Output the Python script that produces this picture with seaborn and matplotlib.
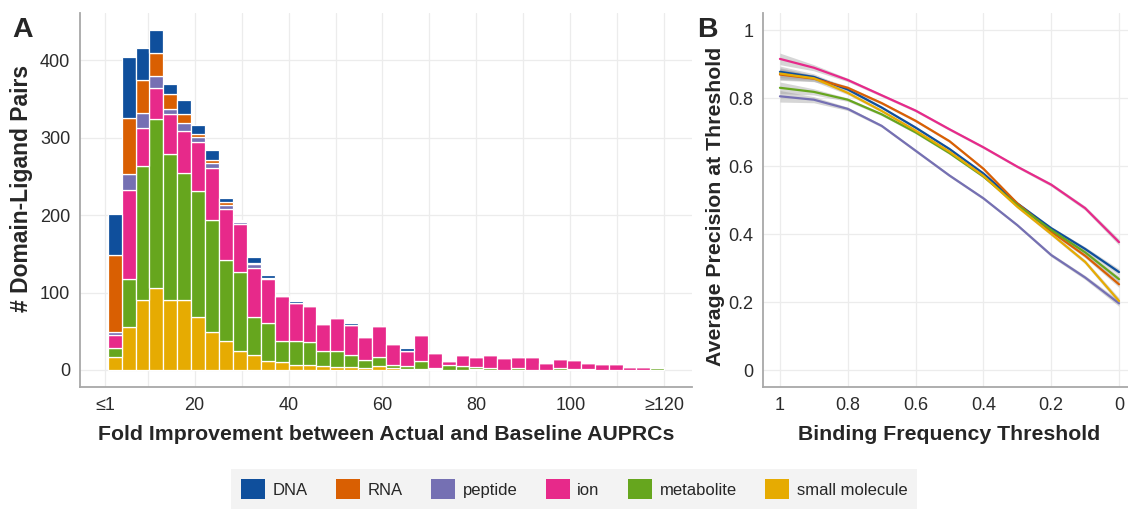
import numpy as np
import pandas as pd
import matplotlib
matplotlib.use("Agg")
import matplotlib.pyplot as plt
from matplotlib.patches import Patch
import seaborn as sns


LIGANDS = ["DNA", "RNA", "peptide", "ion", "metabolite", "small molecule"]
COLORS = ["#0f4f9c", "#d95f02", "#7570b3", "#e7298a", "#66a61e", "#e6ab02"]

# panel A: number of domain-ligand pairs per fold-improvement bin (40 bins)
N_BINS = 40
BIN_RANGE = (1.5, 120)
dna_counts = [53, 79, 42, 30, 12, 18, 12, 13, 5, 2, 8, 3, 0, 2, 0, 0, 0, 3, 0, 0,
              0, 3, 0, 0, 0, 0, 0, 0, 0, 0, 0, 0, 0, 0, 0, 0, 0, 0, 0, 0]
rna_counts = [100, 72, 42, 30, 20, 12, 4, 4, 4, 1, 1, 0, 0, 1, 0, 0, 0, 0, 0, 0,
              0, 0, 0, 0, 0, 0, 0, 0, 0, 0, 0, 0, 0, 0, 0, 0, 0, 0, 0, 0]
peptide_counts = [4, 21, 19, 15, 7, 10, 6, 6, 5, 3, 5, 1, 0, 0, 0, 0, 0, 0, 0, 0,
                  0, 0, 0, 0, 0, 0, 0, 0, 0, 0, 0, 0, 0, 0, 0, 0, 0, 0, 0, 0]
ion_counts = [17, 115, 50, 40, 51, 54, 64, 67, 66, 61, 63, 57, 59, 49, 46, 34, 42, 39, 30, 40,
              27, 20, 33, 19, 6, 14, 13, 16, 16, 15, 17, 9, 12, 12, 8, 8, 8, 4, 4, 2]
metabolite_counts = [11, 62, 172, 218, 189, 165, 163, 145, 105, 103, 50, 49, 27, 30, 29, 20, 21, 15, 11, 12,
                     5, 4, 11, 2, 6, 5, 3, 3, 0, 2, 0, 0, 2, 1, 1, 0, 0, 0, 0, 2]
small_molecule_counts = [17, 55, 91, 106, 90, 90, 68, 49, 37, 24, 19, 12, 10, 7, 7, 5, 4, 4, 2, 5,
                         2, 1, 1, 1, 0, 0, 1, 0, 0, 0, 0, 0, 0, 0, 0, 0, 0, 0, 0, 0]

# panel B: smoothed average precision vs binding frequency threshold
thresholds = [1.0, 0.9, 0.8, 0.7, 0.6, 0.5, 0.4, 0.3, 0.2, 0.1, 0.0]
dna_prec = [0.877, 0.862, 0.825, 0.772, 0.713, 0.650, 0.578, 0.490, 0.417, 0.356, 0.288]
rna_prec = [0.869, 0.857, 0.830, 0.785, 0.733, 0.673, 0.592, 0.490, 0.407, 0.336, 0.252]
peptide_prec = [0.805, 0.795, 0.768, 0.718, 0.645, 0.572, 0.505, 0.426, 0.338, 0.272, 0.196]
ion_prec = [0.915, 0.889, 0.853, 0.808, 0.763, 0.708, 0.655, 0.598, 0.545, 0.476, 0.376]
metabolite_prec = [0.830, 0.818, 0.795, 0.752, 0.699, 0.638, 0.569, 0.485, 0.412, 0.346, 0.267]
small_molecule_prec = [0.872, 0.858, 0.815, 0.762, 0.704, 0.642, 0.571, 0.480, 0.400, 0.318, 0.203]
band_halfwidth = [0.017, 0.009, 0.005, 0.004, 0.004, 0.004, 0.004, 0.004, 0.005, 0.006, 0.009]


def build_hist_df():
    edges = np.linspace(BIN_RANGE[0], BIN_RANGE[1], N_BINS + 1)
    mids = (edges[:-1] + edges[1:]) / 2
    all_counts = [dna_counts, rna_counts, peptide_counts, ion_counts,
                  metabolite_counts, small_molecule_counts]
    rows = []
    for lig, counts in zip(LIGANDS, all_counts):
        for m, c in zip(mids, counts):
            rows.append((lig, m, c))
    return pd.DataFrame(rows, columns=["ligand", "fold", "n"])


def build_smooth_df():
    all_prec = [dna_prec, rna_prec, peptide_prec, ion_prec,
                metabolite_prec, small_molecule_prec]
    rows = []
    for lig, prec in zip(LIGANDS, all_prec):
        for t, p, h in zip(thresholds, prec, band_halfwidth):
            # lower / fit / upper so the band spans the smoother's CI
            rows.append((lig, t, p - h))
            rows.append((lig, t, p))
            rows.append((lig, t, p + h))
    return pd.DataFrame(rows, columns=["ligand", "threshold", "precision"])


def style_axes(ax):
    ax.set_facecolor("white")
    for side in ["top", "right"]:
        ax.spines[side].set_visible(False)
    for side in ["left", "bottom"]:
        ax.spines[side].set_visible(True)
        ax.spines[side].set_color("#a8a8a8")
        ax.spines[side].set_linewidth(1.3)
    ax.grid(True, which="both", color="#ececec", linewidth=0.9)
    ax.set_axisbelow(True)
    ax.tick_params(which="both", length=4, width=1, color="#a8a8a8",
                   labelsize=13, labelcolor="#2b2b2b", pad=3)


def main():
    sns.set_theme(style="white")
    plt.rcParams["font.family"] = ["Liberation Sans", "DejaVu Sans"]

    W, H = 1128, 511
    fig = plt.figure(figsize=(W / 100, H / 100), dpi=100)
    fig.patch.set_facecolor("white")

    ax_a = fig.add_axes([80 / W, 124 / H, 612 / W, 374 / H])
    ax_b = fig.add_axes([763 / W, 124 / H, 373 / W, 374 / H])

    # ---- panel A
    hist_df = build_hist_df()
    sns.histplot(data=hist_df, x="fold", weights="n", hue="ligand",
                 hue_order=LIGANDS, palette=COLORS, multiple="stack",
                 bins=N_BINS, binrange=BIN_RANGE, edgecolor="white",
                 linewidth=0.9, alpha=1, legend=False, ax=ax_a)
    style_axes(ax_a)
    ax_a.set_xlim(-4.4, 125.9)
    ax_a.set_ylim(-22, 461)
    ax_a.set_xticks([1, 20, 40, 60, 80, 100, 120])
    ax_a.set_xticklabels(["≤1", "20", "40", "60", "80", "100", "≥120"])
    ax_a.set_xticks([10, 30, 50, 70, 90, 110], minor=True)
    ax_a.set_yticks([0, 100, 200, 300, 400])
    ax_a.set_xlabel("Fold Improvement between Actual and Baseline AUPRCs",
                    fontsize=15.3, fontweight="bold")
    ax_a.set_ylabel("# Domain-Ligand Pairs", fontsize=16.5, fontweight="bold")
    ax_a.xaxis.set_label_coords(0.5, -38 / 374)
    ax_a.yaxis.set_label_coords(-47 / 612, 0.5 + 12 / 374)

    # ---- panel B
    smooth_df = build_smooth_df()
    sns.lineplot(data=smooth_df, x="threshold", y="precision", hue="ligand",
                 hue_order=LIGANDS, palette=COLORS, estimator="mean",
                 errorbar=("pi", 100),
                 err_kws={"facecolor": "#999999", "alpha": 0.4, "linewidth": 0},
                 linewidth=1.6, legend=False, ax=ax_b)
    style_axes(ax_b)
    ax_b.set_xlim(1.05, -0.05)
    ax_b.set_ylim(-0.05, 1.05)
    ax_b.set_xticks([1, 0.8, 0.6, 0.4, 0.2, 0])
    ax_b.set_xticklabels(["1", "0.8", "0.6", "0.4", "0.2", "0"])
    ax_b.set_yticks([0, 0.2, 0.4, 0.6, 0.8, 1])
    ax_b.set_yticklabels(["0", "0.2", "0.4", "0.6", "0.8", "1"])
    ax_b.set_xlabel("Binding Frequency Threshold", fontsize=15.3, fontweight="bold")
    ax_b.set_ylabel("Average Precision at Threshold", fontsize=15.3, fontweight="bold")
    ax_b.xaxis.set_label_coords(0.5, -38 / 374)
    ax_b.yaxis.set_label_coords(-38 / 373, 0.5 - 6 / 374)

    # panel letters
    fig.text(12 / W, 1 - 17 / H, "A", fontsize=20.5, fontweight="bold", va="top", ha="left")
    fig.text(697 / W, 1 - 17 / H, "B", fontsize=20.5, fontweight="bold", va="top", ha="left")

    # shared legend
    handles = [Patch(facecolor=c, edgecolor="none") for c in COLORS]
    leg = fig.legend(handles, LIGANDS, loc="center", bbox_to_anchor=(574 / W, 1 - 489 / H),
                     ncol=6, frameon=True, fancybox=False, fontsize=12,
                     handlelength=1.45, handleheight=1.45, handletextpad=0.45,
                     columnspacing=1.7, borderpad=0.6)
    leg.get_frame().set_facecolor("#f0f0f0")
    leg.get_frame().set_edgecolor("none")

    fig.savefig("out.png", dpi=100)


if __name__ == "__main__":
    main()
